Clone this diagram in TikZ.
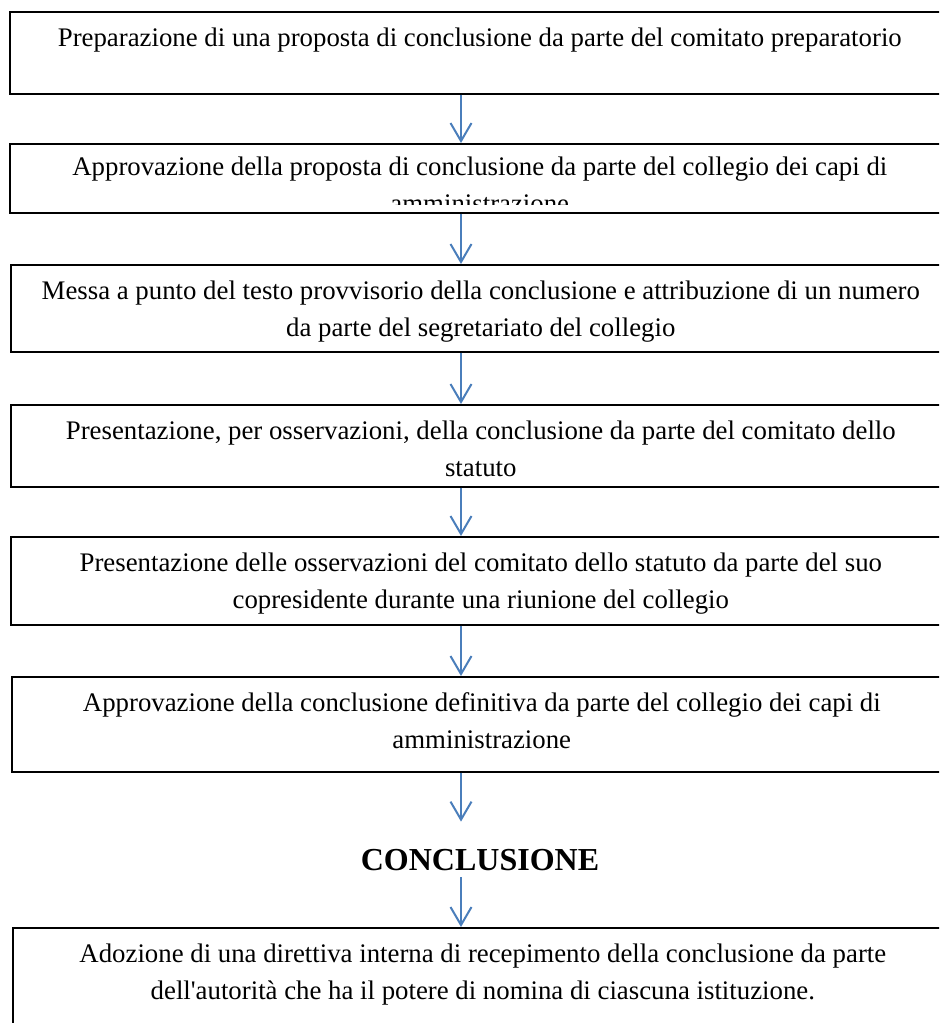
\documentclass[tikz,border=0pt]{standalone}
\usepackage{fontspec}
\setmainfont{Liberation Serif}[Ligatures=TeXOff]
\usetikzlibrary{positioning,arrows.meta}
\definecolor{arrowblue}{RGB}{74,126,187}

\begin{document}
\begin{tikzpicture}[x=0.5pt,y=-0.5pt,>={Straight Barb[length=9pt,width=10.5pt]},
  box/.style={draw,line width=0.8pt,fill=white,inner sep=0pt,anchor=north west,minimum width=470pt},
  txt/.style={align=center,inner sep=0pt,font=\fontsize{13.4}{18.35}\selectfont},
  concl/.style={anchor=base,inner sep=0pt,font=\fontsize{16}{19}\selectfont\bfseries,text height=24pt,text depth=3.5pt},
  flow/.style={->,line width=1pt,draw=arrowblue}]
\useasboundingbox (0,0) rectangle (939,1023);
\clip (0,0) rectangle (939,1023);
\fill[white] (0,0) rectangle (939,1023);
\coordinate (ax) at (461,0);

\node[box,minimum height=41pt] (b1) at (9,11) {};
\node[txt,below=8.35pt of b1.north] (t1) {Preparazione di una proposta di conclusione da parte del comitato preparatorio};

\node[box,minimum height=34.5pt] (b2) at (9,143) {};
\begin{scope}
\clip (9,143) rectangle (950,204);
\node[txt,below=6.85pt of b2.north] (t2) {Approvazione della proposta di conclusione da parte del collegio dei capi di\\ amministrazione};
\end{scope}

\node[box,minimum height=43.5pt] (b3) at (10,264) {};
\node[txt,below=8.35pt of b3.north] (t3) {Messa a punto del testo provvisorio della conclusione e attribuzione di un numero\\ da parte del segretariato del collegio};

\node[box,minimum height=41pt] (b4) at (10,404) {};
\node[txt,below=8.35pt of b4.north] (t4) {Presentazione, per osservazioni, della conclusione da parte del comitato dello\\ statuto};

\node[box,minimum height=44pt] (b5) at (10,536) {};
\node[txt,below=8.35pt of b5.north] (t5) {Presentazione delle osservazioni del comitato dello statuto da parte del suo\\ copresidente durante una riunione del collegio};

\node[box,minimum height=47.5pt] (b6) at (11,676) {};
\node[txt,below=8.35pt of b6.north] (t6) {Approvazione della conclusione definitiva da parte del collegio dei capi di\\ amministrazione};

\node[concl] (concl) at (480,870) {CONCLUSIONE};

\node[box,minimum height=60pt] (b7) at (12,927) {};
\node[txt,below=8.35pt of b7.north] (t7) {Adozione di una direttiva interna di recepimento della conclusione da parte\\ dell'autorità che ha il potere di nomina di ciascuna istituzione.};

\draw[flow] (b1.south -| ax) -- (b2.north -| ax);
\draw[flow] (b2.south -| ax) -- (b3.north -| ax);
\draw[flow] (b3.south -| ax) -- (b4.north -| ax);
\draw[flow] (b4.south -| ax) -- (b5.north -| ax);
\draw[flow] (b5.south -| ax) -- (b6.north -| ax);
\draw[flow] (b6.south -| ax) -- (concl.north -| ax);
\draw[flow] (concl.south -| ax) -- (b7.north -| ax);
\end{tikzpicture}
\end{document}
